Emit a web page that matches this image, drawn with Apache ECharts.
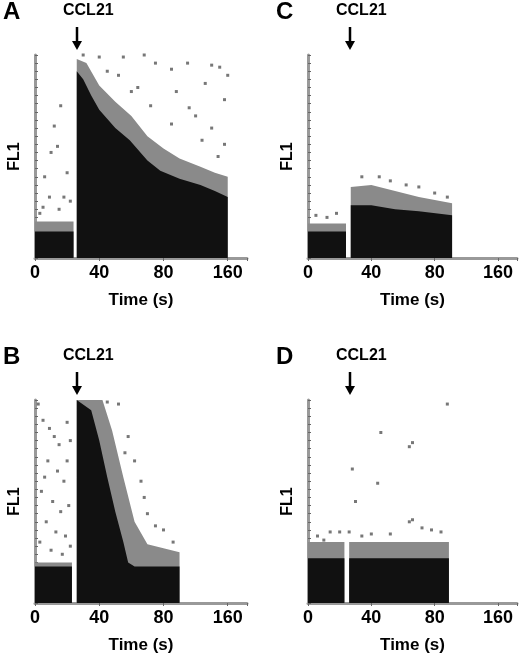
<!DOCTYPE html>
<html>
<head>
<meta charset="utf-8">
<script src="https://cdn.jsdelivr.net/npm/echarts@6/dist/echarts.min.js"></script>
<style>
html, body { margin: 0; padding: 0; background: #fff; }
#chart { width: 520px; height: 661px; }
</style>
</head>
<body>
<div id="chart"></div>
<script>
// x 刻度标签（图中最后一个刻度标为160）
var tickValues = [0, 40, 80, 120];
var tickLabels = ["0", "40", "80", "160"];

// 面板A
var denseA = [[0, 13], [24, 13], [24, null], [26, 92], [30, 88], [35, 80], [40, 73], [50, 64], [59, 58], [70, 48], [78, 43], [90, 39], [103, 36], [112, 33], [120, 30]];
var fringeA = [[0, 18], [24, 18], [24, null], [26, 98], [32, 96], [40, 85], [50, 77], [60, 70], [70, 60], [80, 54], [90, 49], [103, 45], [112, 42], [120, 40]];
var sparseA = [[6, 40], [10, 52], [14, 55], [16, 75], [12, 65], [20, 42], [18, 30], [22, 28], [5, 25], [9, 30], [3, 22], [15, 24],
    [30, 100], [40, 99], [55, 99], [68, 100], [75, 96], [85, 93], [95, 96], [110, 95], [115, 94], [120, 90], [118, 78], [106, 86],
    [88, 82], [96, 74], [100, 70], [110, 64], [118, 56], [85, 66], [72, 75], [64, 84], [52, 90], [60, 82], [45, 92], [104, 58], [114, 50]];

// 面板B
var denseB = [[0, 18], [23, 18], [23, null], [26, 100], [35, 95], [40, 80], [45, 62], [50, 45], [55, 30], [58, 20], [62, 18], [90, 18]];
var fringeB = [[0, 20], [23, 20], [23, null], [26, 100], [42, 100], [48, 85], [55, 62], [62, 40], [70, 29], [80, 27], [90, 25]];
var sparseB = [[2, 98], [5, 90], [9, 86], [12, 82], [15, 78], [20, 89], [22, 80], [8, 70], [14, 65], [18, 60], [4, 55], [11, 50],
    [16, 45], [21, 48], [7, 40], [13, 35], [19, 33], [3, 30], [10, 26], [17, 24], [22, 28], [6, 62], [20, 70],
    [45, 99], [52, 98], [58, 82], [62, 70], [56, 74], [66, 60], [70, 44], [75, 38], [80, 36], [86, 30], [68, 52]];

// 面板C
var denseC = [[0, 13], [24, 13], [24, null], [27, 26], [40, 26], [55, 24], [70, 23], [91, 21]];
var fringeC = [[0, 17], [24, 17], [24, null], [27, 35], [40, 36], [55, 33], [70, 30], [91, 27]];
var sparseC = [[5, 21], [12, 20], [18, 22], [34, 40], [45, 40], [52, 38], [62, 36], [70, 35], [80, 32], [88, 30]];

// 面板D
var denseD = [[0, 22], [23, 22], [23, null], [26, 22], [89, 22]];
var fringeD = [[0, 30], [23, 30], [23, null], [26, 30], [89, 30]];
var sparseD = [[88, 98], [46, 84], [66, 79], [64, 77], [28, 66], [44, 59], [30, 50], [66, 41], [64, 40], [14, 35], [20, 35],
    [6, 33], [26, 35], [40, 34], [52, 34], [72, 37], [78, 36], [84, 35], [10, 31], [34, 33]];

var panels = [
    { name: "A", left: 35, top: 55, dense: denseA, fringe: fringeA, sparse: sparseA },
    { name: "C", left: 308, top: 55, dense: denseC, fringe: fringeC, sparse: sparseC },
    { name: "B", left: 35, top: 400, dense: denseB, fringe: fringeB, sparse: sparseB },
    { name: "D", left: 308, top: 400, dense: denseD, fringe: fringeD, sparse: sparseD }
];

var font = "Liberation Sans";
var grids = [], xAxes = [], yAxes = [], series = [], graphics = [];

panels.forEach(function (p, i) {
    grids.push({ left: p.left, top: p.top, width: 212, height: 203 });
    xAxes.push({
        gridIndex: i, type: "value", min: 0, max: 132, interval: 40,
        name: "Time (s)", nameLocation: "middle", nameGap: 34,
        nameTextStyle: { fontFamily: font, fontWeight: "bold", fontSize: 17, color: "#000" },
        axisLine: { lineStyle: { color: "#999", width: 3 } },
        axisTick: { length: 3, lineStyle: { color: "#666" } },
        axisLabel: {
            fontFamily: font, fontWeight: "bold", fontSize: 18, color: "#000", margin: 6,
            formatter: function (v) { var k = tickValues.indexOf(v); return k >= 0 ? tickLabels[k] : ""; }
        },
        splitLine: { show: false }
    });
    yAxes.push({
        gridIndex: i, type: "value", min: 0, max: 100, interval: 4,
        name: "FL1", nameLocation: "middle", nameGap: 12, nameRotate: 90,
        nameTextStyle: { fontFamily: font, fontWeight: "bold", fontSize: 16, color: "#000" },
        axisLine: { show: true, lineStyle: { color: "#999", width: 3 } },
        axisTick: { show: true, inside: true, length: 3, lineStyle: { color: "#666" } },
        axisLabel: { show: false },
        splitLine: { show: false }
    });
    series.push({
        type: "line", xAxisIndex: i, yAxisIndex: i, data: p.fringe, symbol: "none",
        lineStyle: { width: 0 }, areaStyle: { color: "#8a8a8a", opacity: 1 }, z: 1
    });
    series.push({
        type: "line", xAxisIndex: i, yAxisIndex: i, data: p.dense, symbol: "none",
        lineStyle: { width: 0 }, areaStyle: { color: "#111", opacity: 1 }, z: 2
    });
    series.push({
        type: "scatter", xAxisIndex: i, yAxisIndex: i, data: p.sparse, symbol: "rect",
        symbolSize: 3, itemStyle: { color: "#555" }, z: 3
    });
    // 面板字母、CCL21 标注与箭头
    graphics.push({ type: "text", left: p.left - 32, top: p.top - 55, style: { text: p.name, font: "bold 24px " + font, fill: "#000" } });
    graphics.push({ type: "text", left: p.left + 28, top: p.top - 52, style: { text: "CCL21", font: "bold 16px " + font, fill: "#000" } });
    var ax = p.left + 42;
    graphics.push({ type: "line", shape: { x1: ax, y1: p.top - 28, x2: ax, y2: p.top - 10 }, style: { stroke: "#000", lineWidth: 2.5 } });
    graphics.push({ type: "polygon", shape: { points: [[ax - 5, p.top - 14], [ax + 5, p.top - 14], [ax, p.top - 5]] }, style: { fill: "#000" } });
});

var chart = echarts.init(document.getElementById("chart"));
chart.setOption({
    animation: false,
    grid: grids,
    xAxis: xAxes,
    yAxis: yAxes,
    series: series,
    graphic: graphics
});
</script>
</body>
</html>
